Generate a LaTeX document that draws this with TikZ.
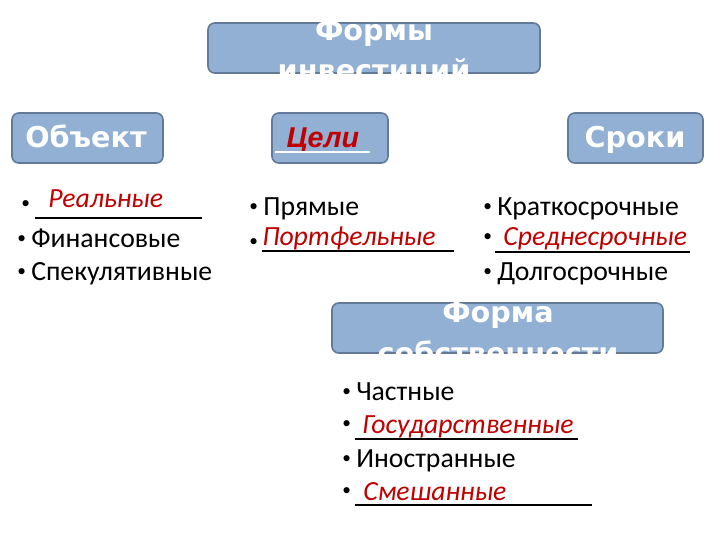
\documentclass[tikz,border=0pt]{standalone}
\usepackage{fontspec}
\usepackage{xcolor}
\usepackage{tikz}
\usetikzlibrary{scopes}
\newfontfamily\bodyfont{Carlito}
\newfontfamily\headfont{DejaVu Sans}
\newfontfamily\goalfont{Liberation Sans}
\definecolor{boxfill}{RGB}{145,176,212}
\definecolor{boxline}{RGB}{98,122,152}
\definecolor{answer}{RGB}{192,0,0}
\newcommand{\bul}{\makebox[10.5pt][l]{\raisebox{2.5pt}{\fontsize{13}{13}\selectfont•}}}

\begin{document}
\begin{tikzpicture}[x=0.75pt,y=-0.75pt,
      box/.style={draw=boxline,fill=boxfill,rounded corners=5pt,line width=1.2pt,inner sep=0pt,minimum height=37.5pt},
      head/.style={text=white,align=center,inner sep=0pt,font=\headfont\bfseries\fontsize{21.5}{25.5}\selectfont},
      item/.style={anchor=base west,inner sep=0pt,font=\bodyfont\fontsize{20.8}{24}\selectfont},
      ans/.style={item,text=answer,font=\bodyfont\itshape\fontsize{20.8}{24}\selectfont},
      blank/.style={draw=black,line width=1.2pt}
]
      \useasboundingbox (0,0) rectangle (720,540);
      % boxes
      \node[box,minimum width=249pt] (forms) at (374,48) {};
      \node[head] (formst) at (374,52.5) {Формы\\[4.5pt]инвестиций};
      \node[box,minimum width=113.25pt] (object) at (87.5,138) {};
      \node[head,anchor=base] (objectt) at (86,147) {Объект};
      \node[box,minimum width=87pt] (goals) at (330,138) {};
      \node[head,anchor=base,text=answer,font=\goalfont\bfseries\itshape\fontsize{21.5}{25.5}\selectfont] (goalst) at (323,147) {Цели};
      \draw[white,line width=1.5pt] (275,152) -- (370,152);
      \node[box,minimum width=101.25pt] (terms) at (635.5,138) {};
      \node[head,anchor=base] (termst) at (635,147) {Сроки};
      \node[box,minimum width=248.25pt] (owner) at (497.5,328) {};
      \node[head] (ownert) at (498,333) {Форма\\[5.25pt]собственности};
      % object
      \node[item] (realb) at (21,212) {\bul};
      \node[ans] (real) at (48,207) {Реальные};
      \node[item] (fin) at (17,247) {\bul Финансовые};
      \node[item] (spec) at (17,280) {\bul Спекулятивные};
      % goals
      \node[item] (direct) at (249,215) {\bul Прямые};
      \node[item] (portb) at (249,250) {\bul};
      \node[ans] (port) at (262,245) {Портфельные};
      % terms
      \node[item] (short) at (483,215) {\bul Краткосрочные};
      \node[item] (midb) at (483,245) {\bul};
      \node[ans] (mid) at (503,245) {Среднесрочные};
      \node[item] (long) at (483,280) {\bul Долгосрочные};
      % ownership
      \node[item] (priv) at (342,400) {\bul Частные};
      \node[item] (stateb) at (342,432) {\bul};
      \node[ans] (state) at (362,433) {Государственные};
      \node[item] (foreign) at (342,467) {\bul Иностранные};
      \node[item] (mixb) at (342,499) {\bul};
      \node[ans] (mix) at (363,500) {Смешанные};
      {[blank]
          \draw (35,218) -- (202,218);
          \draw (262,251) -- (454,251);
          \draw (495,252) -- (690,252);
          \draw (355,439) -- (578,439);
          \draw (355,505) -- (592,505);
      }
\end{tikzpicture}
\end{document}
